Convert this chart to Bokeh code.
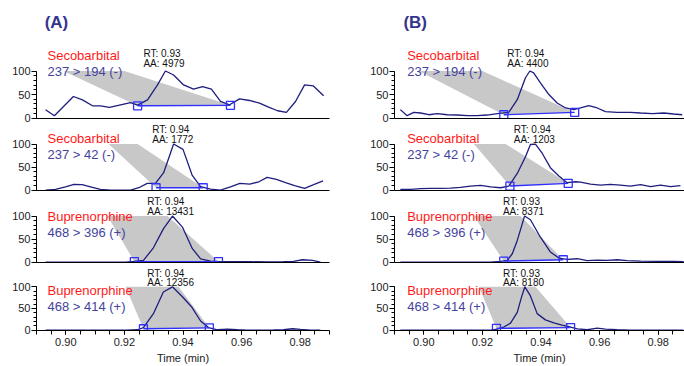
from bokeh.plotting import figure
from bokeh.layouts import gridplot
from bokeh.models import Range1d, FixedTicker, Label, PrintfTickFormatter
from bokeh.embed import file_html
from bokeh.resources import INLINE

# ---------------- data ----------------
A1_t = [0.8931, 0.8961, 0.9026, 0.9057, 0.9091, 0.9118, 0.9149, 0.9187, 0.9221, 0.9245, 0.9279, 0.9313, 0.9340, 0.9368, 0.9402,
        0.9436, 0.9467, 0.9497, 0.9528, 0.9559, 0.9593, 0.9627, 0.9661, 0.9692, 0.9723, 0.9753, 0.9784, 0.9815, 0.9845, 0.9880]
A1_v = [17.6, 4.9, 45.8, 38.7, 26, 26, 22.5, 28, 33, 27.5, 38.7, 70.4, 100, 91.5, 70.4,
        61.3, 66.9, 61.3, 35.2, 28.2, 40.8, 37.3, 31.7, 23.2, 15.5, 12, 35.2, 70.4, 68.3, 47.2]
A2_t = [0.8931, 0.8965, 0.8999, 0.9025, 0.9056, 0.9084, 0.9118, 0.9153, 0.9187, 0.9221, 0.9249, 0.9278, 0.9306, 0.9334, 0.9368,
        0.9400, 0.9431, 0.9460, 0.9494, 0.9528, 0.9562, 0.9594, 0.9628, 0.9659, 0.9687, 0.9719, 0.9750, 0.9781, 0.9815, 0.9846, 0.9878]
A2_v = [0, 1.4, 7, 12, 11.6, 7, 1.4, 0, 0, 0, 5, 14.5, 14.5, 37.7, 100,
        88.4, 32.6, 7.2, 2, 0, 7, 14.5, 13, 18, 27.5, 23, 15.9, 9.4, 3.6, 11.6, 20]
A3_t = [0.8931, 0.8965, 0.8999, 0.9033, 0.9067, 0.9101, 0.9135, 0.9170, 0.9204, 0.9231, 0.9265, 0.9299, 0.9333, 0.9364,
        0.9398, 0.9432, 0.9460, 0.9494, 0.9528, 0.9572, 0.9630, 0.9688, 0.9743, 0.9777, 0.9808, 0.9842, 0.9869]
A3_v = [0, 0, 0, 0, 0, 0, 0, 0, 0, 1.4, 3.6, 31, 72, 100,
        76, 29, 7, 2, 0.7, 0.7, 0.7, 0.3, 0.7, 1.5, 5, 3.6, 0]
A4_t = [0.8931, 0.8965, 0.8999, 0.9033, 0.9067, 0.9101, 0.9135, 0.9170, 0.9204, 0.9245, 0.9265, 0.9299, 0.9333, 0.9364,
        0.9398, 0.9429, 0.9460, 0.9487, 0.9518, 0.9552, 0.9586, 0.9620, 0.9665, 0.9709, 0.9743, 0.9774, 0.9801, 0.9835, 0.9869]
A4_v = [0, 0, 0, 0, 0, 0, 0, 0, 0, 0.7, 5.7, 37.9, 88, 100,
        77, 54, 21, 5.7, 0.7, 2, 0.7, 0, 0, 0.3, 0.7, 3, 1.4, 0, 0]

B1_t = [0.8920, 0.8943, 0.8966, 0.8989, 0.9017, 0.9046, 0.9080, 0.9114, 0.9148, 0.9182, 0.9216, 0.9251, 0.9290, 0.9319, 0.9347,
        0.9362, 0.9375, 0.9398, 0.9427, 0.9455, 0.9484, 0.9512, 0.9535, 0.9563, 0.9592, 0.9620, 0.9660, 0.9705, 0.9740, 0.9780,
        0.9819, 0.9853, 0.9882]
B1_v = [17.9, 5, 12, 10.7, 7, 9.3, 7, 6.4, 5, 5, 6.4, 9.3, 12, 39, 85.7,
        100, 96, 75, 50, 32, 21.4, 17.9, 21.4, 26.4, 21.4, 13.6, 12, 12, 10.7, 9.3,
        10.7, 8.6, 7]
B2_t = [0.8920, 0.8955, 0.8989, 0.9023, 0.9057, 0.9091, 0.9125, 0.9159, 0.9194, 0.9228, 0.9262, 0.9290, 0.9319, 0.9347, 0.9364,
        0.9381, 0.9404, 0.9432, 0.9461, 0.9489, 0.9518, 0.9535, 0.9569, 0.9603, 0.9637, 0.9671, 0.9705, 0.9740, 0.9774, 0.9808,
        0.9842, 0.9876]
B2_v = [1.4, 1.4, 3, 3.6, 3.6, 4.3, 5.8, 8.7, 10, 7, 5, 8.7, 36, 72.5, 99,
        100, 80, 48.6, 30.4, 16, 18, 17.4, 13, 10.9, 12.3, 10.9, 8.7, 11.6, 7.2, 10.9,
        7.2, 9.4]
B3_t = [0.8920, 0.8955, 0.8989, 0.9023, 0.9057, 0.9091, 0.9125, 0.9159, 0.9194, 0.9228, 0.9262, 0.9285, 0.9302, 0.9319, 0.9336,
        0.9344, 0.9364, 0.9398, 0.9432, 0.9461, 0.9489, 0.9524, 0.9558, 0.9592, 0.9626, 0.9660, 0.9694, 0.9740, 0.9797, 0.9853,
        0.9887]
B3_v = [0, 0, 0, 0, 0, 0, 0, 0, 0, 0, 1.4, 3.6, 18, 47, 83,
        100, 92, 54, 22, 8.7, 5.8, 7.2, 2.9, 4.3, 3.6, 5, 2.9, 2.2, 1.4, 1.4,
        0.7]
B4_t = [0.8920, 0.8955, 0.8989, 0.9023, 0.9057, 0.9091, 0.9125, 0.9159, 0.9194, 0.9228, 0.9251, 0.9273, 0.9296, 0.9319, 0.9333,
        0.9345, 0.9364, 0.9387, 0.9415, 0.9444, 0.9472, 0.9501, 0.9524, 0.9558, 0.9592, 0.9620, 0.9660, 0.9705, 0.9774, 0.9842,
        0.9886]
B4_v = [0, 0, 0, 0, 0, 0, 0, 0, 0, 0, 2, 7, 16, 41, 75,
        100, 79, 38, 23.6, 16.4, 11.4, 7, 2.9, 0.7, 4.3, 2, 0.7, 0, 0, 0,
        0]

# integration start/end markers (time, level)
A_sq_t = [[0.9245, 0.9562], [0.9308, 0.9469], [0.9234, 0.9521], [0.9265, 0.9490]]
A_sq_v = [[26, 27], [5, 5], [1, 1], [3, 5]]
B_sq_t = [[0.9273, 0.9515], [0.9294, 0.9493], [0.9273, 0.9476], [0.9248, 0.9501]]
B_sq_v = [[7, 12], [8.7, 14.5], [2, 5], [4, 5.7]]

# callout shading: top edge (time) from label box
A_shade = [[0.8992, 0.9200], [0.9146, 0.9245], [0.9142, 0.9347], [0.9204, 0.9385]]
B_shade = [[0.8983, 0.9200], [0.9171, 0.9279], [0.9171, 0.9330], [0.9188, 0.9381]]

panel_titles = ["(A)", "(B)"]
compounds = ["Secobarbital", "Secobarbital", "Buprenorphine", "Buprenorphine"]
transitions = ["237 > 194 (-)", "237 > 42 (-)", "468 > 396 (+)", "468 > 414 (+)"]
A_rt = ["0.93", "0.94", "0.94", "0.94"]
A_aa = ["4979", "1772", "13431", "12356"]
B_rt = ["0.94", "0.94", "0.93", "0.93"]
B_aa = ["4400", "1203", "8371", "8180"]

x_ticks = [0.90, 0.92, 0.94, 0.96, 0.98]
x_minor = [0.89, 0.895, 0.90, 0.905, 0.91, 0.915, 0.92, 0.925, 0.93, 0.935, 0.94, 0.945,
           0.95, 0.955, 0.96, 0.965, 0.97, 0.975, 0.98, 0.985, 0.99]
y_ticks = [0, 50, 100]
y_minor = [0, 10, 20, 30, 40, 50, 60, 70, 80, 90, 100]

# ---------------- style / layout ----------------
FONT = "Liberation Sans"
TRACE = "#1e1e7e"
BASE = "#2f2fff"
SHADE = "#c8c8c8"
RED = "#ff1a1a"
PURPLE = "#43439e"
HEAD = "#35358e"

COL_W = [358, 326]
BORDER_R = [29, 0]
X_END = [0.99, 0.98898]
HEAD_H = 44
FRAME_H = [74, 67, 67, 67]
BOTTOM = [5, 5, 5, 32]
Y_TOP = [156.4, 144.65, 144.65, 144.65]

name_y = [134, 111.4, 99, 92.5]
trans_y = [99.5, 76.6, 64.9, 55.5]
rt_y = [137.7, 131, 131, 131]
aa_y = [116.4, 110.7, 110.7, 110.7]
name_x = [0.89375, 0.89433]
A_rt_x = [0.9265, 0.9295, 0.9278, 0.9278]
B_rt_x = [0.9285, 0.9307, 0.9270, 0.9270]


def make_header(col):
    w = COL_W[col]
    p = figure(width=w, height=HEAD_H, x_range=Range1d(0, w), y_range=Range1d(0, HEAD_H),
               output_backend="svg", toolbar_location=None, min_border=0,
               x_axis_location=None, y_axis_location=None)
    p.title.visible = False
    p.grid.visible = False
    p.outline_line_color = None
    p.add_layout(Label(x=10, y=HEAD_H - 21.5, text=panel_titles[col], text_font=FONT,
                       text_font_size="17px", text_font_style="bold", text_color=HEAD,
                       text_baseline="middle"))
    return p


def make_panel(col, k, t, v, sq_t, sq_v, shade, rt, aa, rt_x):
    p = figure(width=COL_W[col], height=FRAME_H[k] + BOTTOM[k],
               x_range=Range1d(0.89, X_END[col]), y_range=Range1d(-1, Y_TOP[k]),
               output_backend="svg", toolbar_location=None,
               min_border_left=36, min_border_right=BORDER_R[col],
               min_border_top=0, min_border_bottom=BOTTOM[k])
    p.title.visible = False
    p.grid.visible = False
    p.outline_line_color = None

    ya = p.yaxis[0]
    ya.ticker = FixedTicker(ticks=y_ticks, minor_ticks=y_minor)
    ya.bounds = (0, 100)
    ya.major_tick_out = 5
    ya.major_tick_in = 0
    ya.minor_tick_out = 3
    ya.minor_tick_in = 0
    ya.major_label_standoff = 1
    ya.major_label_text_font = FONT
    ya.major_label_text_font_size = "11px"
    ya.major_label_text_color = "#222222"

    xa = p.xaxis[0]
    if k < 3:
        xa.ticker = FixedTicker(ticks=[], minor_ticks=[])
        xa.major_tick_out = 0
        xa.major_tick_in = 0
        xa.minor_tick_out = 0
        xa.minor_tick_in = 0
        xa.major_label_standoff = 0
    else:
        xa.ticker = FixedTicker(ticks=x_ticks, minor_ticks=x_minor)
        xa.formatter = PrintfTickFormatter(format="%.2f")
        xa.major_tick_out = 4
        xa.major_tick_in = 0
        xa.minor_tick_out = 4
        xa.minor_tick_in = 0
        xa.major_label_standoff = 3
        xa.major_label_text_font = FONT
        xa.major_label_text_font_size = "11px"
        xa.major_label_text_color = "#222222"
        xa.axis_label = "Time (min)"
        xa.axis_label_standoff = 3
        xa.axis_label_text_font = FONT
        xa.axis_label_text_font_size = "11px"
        xa.axis_label_text_font_style = "normal"
        xa.axis_label_text_color = "#222222"

    p.patch([shade[0], shade[1], sq_t[1], sq_t[0]], [100, 100, sq_v[1], sq_v[0]],
            fill_color=SHADE, line_color=None)
    p.line(t, v, line_color=TRACE, line_width=1.3)
    p.line(sq_t, sq_v, line_color=BASE, line_width=1.4)
    p.scatter(sq_t, sq_v, marker="square", size=8, fill_color=None,
              line_color=BASE, line_width=1.3)

    p.add_layout(Label(x=name_x[col], y=name_y[k], text=compounds[k], text_font=FONT,
                       text_font_size="13px", text_color=RED, text_baseline="middle"))
    p.add_layout(Label(x=name_x[col], y=trans_y[k], text=transitions[k], text_font=FONT,
                       text_font_size="13px", text_color=PURPLE, text_baseline="middle"))
    p.add_layout(Label(x=rt_x, y=rt_y[k], text="RT: " + rt, text_font=FONT,
                       text_font_size="10px", text_color="#111111", text_baseline="middle"))
    p.add_layout(Label(x=rt_x, y=aa_y[k], text="AA: " + aa, text_font=FONT,
                       text_font_size="10px", text_color="#111111", text_baseline="middle"))
    return p


A_data = [(A1_t, A1_v), (A2_t, A2_v), (A3_t, A3_v), (A4_t, A4_v)]
B_data = [(B1_t, B1_v), (B2_t, B2_v), (B3_t, B3_v), (B4_t, B4_v)]

rows = [[make_header(0), make_header(1)]]
for k in range(4):
    pa = make_panel(0, k, A_data[k][0], A_data[k][1], A_sq_t[k], A_sq_v[k], A_shade[k], A_rt[k], A_aa[k], A_rt_x[k])
    pb = make_panel(1, k, B_data[k][0], B_data[k][1], B_sq_t[k], B_sq_v[k], B_shade[k], B_rt[k], B_aa[k], B_rt_x[k])
    rows.append([pa, pb])

grid = gridplot(rows, toolbar_location=None)

open("out.html", "w").write(file_html(grid, INLINE))
